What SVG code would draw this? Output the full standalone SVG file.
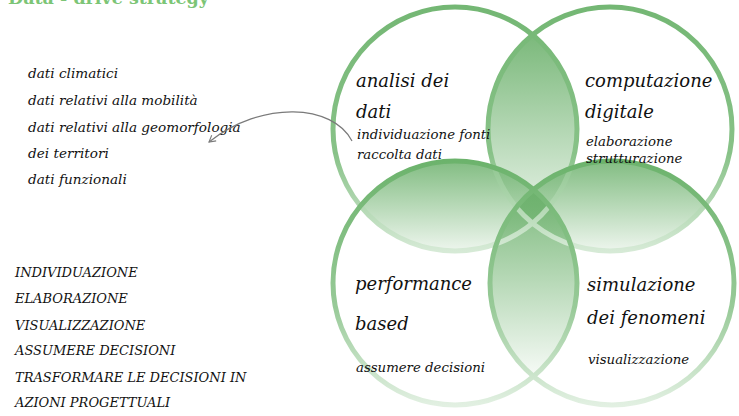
<svg xmlns="http://www.w3.org/2000/svg" width="739" height="416" viewBox="0 0 739 416">
  <style>
    .t { font-family: "DejaVu Serif", "Liberation Serif", serif; font-style: italic; fill: #111111; }
    .big { font-size: 18px; }
    .mid { font-size: 13.3px; }
    .lst { font-size: 13.6px; }
    .cap { font-size: 13px; }
    .title { font-family: "DejaVu Serif", "Liberation Serif", serif; font-weight: bold; font-size: 17.5px; fill: #7cc576; }
    .ring { fill: none; stroke-width: 5; }
  </style>
  <defs>
    <clipPath id="cA"><circle cx="455" cy="129" r="122"/></clipPath>
    <clipPath id="cB"><circle cx="610" cy="129" r="122"/></clipPath>
    <clipPath id="cC"><circle cx="455" cy="283" r="122"/></clipPath>
    <linearGradient id="gAB" gradientUnits="userSpaceOnUse" x1="0" y1="35" x2="0" y2="228">
      <stop offset="0" stop-color="#6cb16c" stop-opacity="0.9"/>
      <stop offset="1" stop-color="#6cb16c" stop-opacity="0.12"/>
    </linearGradient>
    <linearGradient id="gTop" gradientUnits="userSpaceOnUse" x1="0" y1="161" x2="0" y2="251">
      <stop offset="0" stop-color="#6cb16c" stop-opacity="0.85"/>
      <stop offset="1" stop-color="#6cb16c" stop-opacity="0.12"/>
    </linearGradient>
    <linearGradient id="gCD" gradientUnits="userSpaceOnUse" x1="0" y1="190" x2="0" y2="378">
      <stop offset="0" stop-color="#6cb16c" stop-opacity="0.9"/>
      <stop offset="1" stop-color="#6cb16c" stop-opacity="0.05"/>
    </linearGradient>
    <linearGradient id="sTop" gradientUnits="userSpaceOnUse" x1="0" y1="7" x2="0" y2="251">
      <stop offset="0" stop-color="#74b774"/>
      <stop offset="0.6" stop-color="#88c288"/>
      <stop offset="1" stop-color="#d6ead6"/>
    </linearGradient>
    <linearGradient id="sBot" gradientUnits="userSpaceOnUse" x1="0" y1="161" x2="0" y2="405">
      <stop offset="0" stop-color="#6cb36c"/>
      <stop offset="0.6" stop-color="#98ca98"/>
      <stop offset="1" stop-color="#e2f0e2"/>
    </linearGradient>
    <marker id="arr" viewBox="0 0 10 10" refX="8" refY="5" markerWidth="9" markerHeight="9" orient="auto-start-reverse" markerUnits="userSpaceOnUse">
      <path d="M1,1 L8,5 L1,9" fill="none" stroke="#7a7a7a" stroke-width="1.2"/>
    </marker>
  </defs>

  <rect width="739" height="416" fill="#ffffff"/>

  <text class="title" x="8" y="4">Data - drive strategy</text>

  <g id="venn">
    <g id="overlaps">
      <circle cx="610" cy="129" r="122" fill="url(#gAB)" clip-path="url(#cA)"/>
      <circle cx="455" cy="283" r="122" fill="url(#gTop)" clip-path="url(#cA)"/>
      <circle cx="612" cy="283" r="122" fill="url(#gTop)" clip-path="url(#cB)"/>
      <circle cx="612" cy="283" r="122" fill="url(#gCD)" clip-path="url(#cC)"/>
    </g>
    <g id="node-analisi">
      <circle class="ring" cx="455" cy="129" r="122" stroke="url(#sTop)"/>
    </g>
    <g id="node-computazione">
      <circle class="ring" cx="610" cy="129" r="122" stroke="url(#sTop)"/>
    </g>
    <g id="node-performance">
      <circle class="ring" cx="455" cy="283" r="122" stroke="url(#sBot)"/>
    </g>
    <g id="node-simulazione">
      <circle class="ring" cx="612" cy="283" r="122" stroke="url(#sBot)"/>
    </g>
  </g>

  <g id="labels-analisi">
    <text class="t big" x="356" y="87">analisi dei</text>
    <text class="t big" x="356" y="118">dati</text>
    <text class="t mid" x="357" y="139">individuazione fonti</text>
    <text class="t mid" x="357" y="159">raccolta dati</text>
  </g>
  <g id="labels-computazione">
    <text class="t big" x="585" y="87">computazione</text>
    <text class="t big" x="585" y="118">digitale</text>
    <text class="t mid" x="586" y="146">elaborazione</text>
    <text class="t mid" x="586" y="163">strutturazione</text>
  </g>
  <g id="labels-performance">
    <text class="t big" x="355" y="290">performance</text>
    <text class="t big" x="355" y="330">based</text>
    <text class="t mid" x="356" y="372">assumere decisioni</text>
  </g>
  <g id="labels-simulazione">
    <text class="t big" x="587" y="291">simulazione</text>
    <text class="t big" x="587" y="324">dei fenomeni</text>
    <text class="t mid" x="588" y="364">visualizzazione</text>
  </g>

  <g id="list-dati">
    <text class="t lst" x="28" y="78">dati climatici</text>
    <text class="t lst" x="28" y="105">dati relativi alla mobilità</text>
    <text class="t lst" x="28" y="132">dati relativi alla geomorfologia</text>
    <text class="t lst" x="28" y="158">dei territori</text>
    <text class="t lst" x="28" y="184">dati funzionali</text>
  </g>

  <g id="list-fasi">
    <text class="t cap" x="15" y="277">INDIVIDUAZIONE</text>
    <text class="t cap" x="15" y="303">ELABORAZIONE</text>
    <text class="t cap" x="15" y="330">VISUALIZZAZIONE</text>
    <text class="t cap" x="15" y="355">ASSUMERE DECISIONI</text>
    <text class="t cap" x="15" y="382">TRASFORMARE LE DECISIONI IN</text>
    <text class="t cap" x="15" y="407">AZIONI PROGETTUALI</text>
  </g>

  <g id="connectors">
    <path d="M352,141 C333,104 262,100 209,142" fill="none" stroke="#7a7a7a" stroke-width="1.2" marker-end="url(#arr)"/>
  </g>
</svg>
